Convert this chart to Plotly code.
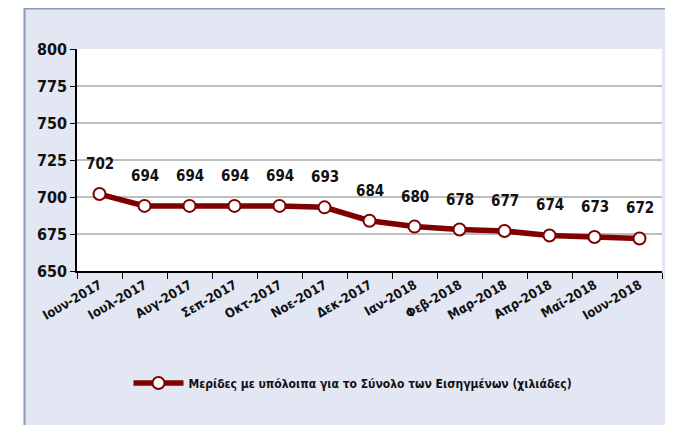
import plotly.graph_objects as go

categories = ["Ιουν-2017", "Ιουλ-2017", "Αυγ-2017", "Σεπ-2017", "Οκτ-2017", "Νοε-2017",
              "Δεκ-2017", "Ιαν-2018", "Φεβ-2018", "Μαρ-2018", "Απρ-2018", "Μαϊ-2018", "Ιουν-2018"]
values = [702, 694, 694, 694, 694, 693, 684, 680, 678, 677, 674, 673, 672]
series_name = "Μερίδες με υπόλοιπα για το Σύνολο των Εισηγμένων (χιλιάδες)"
y_ticks = [650, 675, 700, 725, 750, 775, 800]

FONT = "DejaVu Sans Condensed, DejaVu Sans, sans-serif"
RED = "#7F0000"
PANEL = "#E3E7F3"

# page body has an 8px margin; figure coordinates = screen coordinates - 8
W, H = 665, 417
L, R, T, B = 69, 11, 41, 154
pw, ph = W - L - R, H - T - B

def px2x(px):
    return (px - L) / pw

def px2y(py):
    return (H - B - py) / ph

fig = go.Figure()
fig.add_trace(go.Scatter(
    x=categories, y=values, mode="lines+markers", name=f"<b>{series_name}</b>",
    line=dict(color=RED, width=5.5),
    marker=dict(size=12, color="white", line=dict(color=RED, width=2)),
))

annotations = []
for c, v in zip(categories, values):
    annotations.append(dict(x=c, y=v, xref="x", yref="y", text=f"<b>{v}</b>",
                            showarrow=False, yshift=30,
                            font=dict(family=FONT, size=15, color="#111111")))

shapes = [
    dict(type="rect", xref="paper", yref="paper", layer="below",
         x0=px2x(16.5), x1=px2x(700), y0=px2y(440), y1=px2y(0.5),
         fillcolor=PANEL, line=dict(color="#8C98C0", width=2)),
    dict(type="rect", xref="paper", yref="paper", layer="below",
         x0=0, x1=1, y0=0, y1=1, fillcolor="white", line=dict(width=0)),
]

fig.update_layout(
    width=W, height=H,
    margin=dict(l=L, r=R, t=T, b=B, autoexpand=False),
    paper_bgcolor="white", plot_bgcolor="white",
    font=dict(family=FONT, color="#111111"),
    shapes=shapes, annotations=annotations,
    showlegend=True,
    legend=dict(orientation="h", x=px2x(345), xanchor="center", y=px2y(375), yanchor="middle",
                bgcolor="rgba(0,0,0,0)",
                font=dict(family=FONT, size=12, color="#111111"),
                itemwidth=50),
    xaxis=dict(
        type="category", tickangle=-30, automargin=False,
        showline=True, linecolor="black", linewidth=1.5,
        ticks="outside", ticklen=6, tickcolor="black", tickson="boundaries",
        showgrid=False, range=[-0.5, 12.5],
        tickvals=categories, ticktext=[f"<b>{c}</b>" for c in categories],
        tickfont=dict(family=FONT, size=13, color="#111111"),
    ),
    yaxis=dict(
        range=[650, 800], tickvals=y_ticks, automargin=False,
        ticktext=[f"<b>{t}</b>" for t in y_ticks],
        showline=True, linecolor="black", linewidth=1.5,
        ticks="outside", ticklen=5, tickcolor="black",
        showgrid=True, gridcolor="#BEBEBE", gridwidth=1.5,
        zeroline=False,
        tickfont=dict(family=FONT, size=16, color="#111111"),
    ),
)

fig.write_html("out.html")
